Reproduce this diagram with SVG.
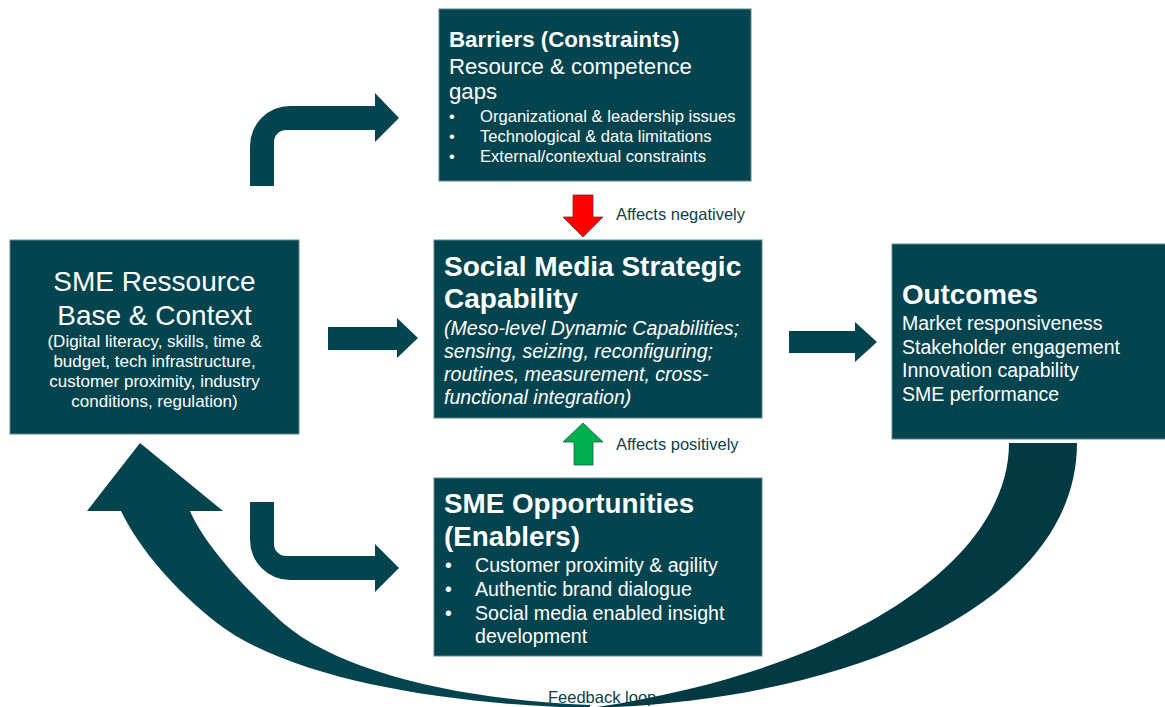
<svg xmlns="http://www.w3.org/2000/svg" width="1165" height="707" viewBox="0 0 1165 707">
  <style>
    .box { fill: #03444f; stroke: #5d8790; stroke-width: 1; }
    .flow { fill: #03444f; }
    .t { font-family: "Liberation Sans", Arial, sans-serif; fill: #ffffff; }
    .lbl { font-family: "Liberation Sans", Arial, sans-serif; fill: #0b3f49; font-size: 16.5px; }
    .b { font-weight: bold; }
    .i { font-style: italic; }
  </style>

  <!-- connectors -->
  <g id="connectors">
    <!-- feedback loop: underside (darker) from Outcomes down to the bottom -->
    <path d="M 1009,443 L 1077,443 C 1077,600 860,700 590,708 C 850,670 1009,560 1009,443 Z" fill="#023943"/>
    <!-- feedback loop: upper side rising back to the resource base -->
    <path d="M 590,708 C 450,705 290,680 217,623 C 175,590 140,550 121,511 L 87,511 L 140,443 L 223,511 L 190,511 C 200,535 230,575 283,623 C 340,672 460,700 590,705 Z" fill="#03444f"/>

    <!-- bent arrow to Barriers -->
    <path class="flow" d="M 250,186 L 250,146 A 40 40 0 0 1 290,106 L 375,106 L 375,93 L 399,118 L 375,142 L 375,130 L 286,130 A 12 12 0 0 0 274,142 L 274,186 Z"/>
    <!-- bent arrow to Opportunities -->
    <path class="flow" d="M 250,502 L 274,502 L 274,544 A 12 12 0 0 0 286,556 L 375,556 L 375,544 L 399,568 L 375,592 L 375,580 L 290,580 A 40 40 0 0 1 250,540 Z"/>

    <!-- resource base to capability -->
    <path class="flow" d="M 328,327 L 397,327 L 397,318 L 418,338 L 397,358 L 397,350 L 328,350 Z"/>
    <!-- capability to outcomes -->
    <path class="flow" d="M 789,331 L 855,331 L 855,322 L 877,342 L 855,362 L 855,353 L 789,353 Z"/>

    <!-- barriers affect capability negatively -->
    <path d="M 573,195 L 593,195 L 593,217 L 603,217 L 583,237 L 563,217 L 573,217 Z" fill="#ff0000" stroke="#7a2a2a" stroke-width="0.8"/>
    <!-- opportunities affect capability positively -->
    <path d="M 574,465 L 593,465 L 593,442 L 603,442 L 583,423 L 563,442 L 574,442 Z" fill="#00b050" stroke="#1f5a3c" stroke-width="0.8"/>

    <text class="lbl" x="616" y="220">Affects negatively</text>
    <text class="lbl" x="616" y="450">Affects positively</text>
    <text class="lbl" x="548" y="703">Feedback loop</text>
  </g>

  <!-- SME resource base -->
  <g id="resource-base">
    <rect class="box" x="10" y="240" width="289" height="194"/>
    <g class="t" text-anchor="middle">
      <text x="154.5" y="291" font-size="28">SME Ressource</text>
      <text x="154.5" y="325" font-size="28">Base &amp; Context</text>
      <text x="154.5" y="347" font-size="17">(Digital literacy, skills, time &amp;</text>
      <text x="154.5" y="367" font-size="17">budget, tech infrastructure,</text>
      <text x="154.5" y="387" font-size="17">customer proximity, industry</text>
      <text x="154.5" y="407" font-size="17">conditions, regulation)</text>
    </g>
  </g>

  <!-- barriers -->
  <g id="barriers">
    <rect class="box" x="439" y="9" width="312" height="172"/>
    <g class="t">
      <text class="b" x="449" y="47" font-size="22.3">Barriers (Constraints)</text>
      <text x="449" y="74" font-size="22.2">Resource &amp; competence</text>
      <text x="449" y="99" font-size="22.2">gaps</text>
      <g font-size="16.6">
        <text x="449" y="122">•</text>
        <text x="480" y="122">Organizational &amp; leadership issues</text>
        <text x="449" y="142">•</text>
        <text x="480" y="142">Technological &amp; data limitations</text>
        <text x="449" y="162">•</text>
        <text x="480" y="162">External/contextual constraints</text>
      </g>
    </g>
  </g>

  <!-- social media strategic capability -->
  <g id="capability">
    <rect class="box" x="434" y="240" width="328" height="178"/>
    <g class="t">
      <text class="b" x="444" y="276" font-size="28">Social Media Strategic</text>
      <text class="b" x="444" y="308" font-size="28">Capability</text>
      <g class="i" font-size="19.6">
        <text x="444" y="335">(Meso-level Dynamic Capabilities;</text>
        <text x="444" y="358">sensing, seizing, reconfiguring;</text>
        <text x="444" y="381">routines, measurement, cross-</text>
        <text x="444" y="404">functional integration)</text>
      </g>
    </g>
  </g>

  <!-- outcomes -->
  <g id="outcomes">
    <rect class="box" x="892" y="244" width="280" height="195"/>
    <g class="t">
      <text class="b" x="902" y="304" font-size="27.8">Outcomes</text>
      <g font-size="19.5">
        <text x="902" y="330">Market responsiveness</text>
        <text x="902" y="354">Stakeholder engagement</text>
        <text x="902" y="377">Innovation capability</text>
        <text x="902" y="401">SME performance</text>
      </g>
    </g>
  </g>

  <!-- opportunities -->
  <g id="opportunities">
    <rect class="box" x="434" y="478" width="328" height="178"/>
    <g class="t">
      <text class="b" x="444" y="513" font-size="27.8">SME Opportunities</text>
      <text class="b" x="444" y="546" font-size="27.8">(Enablers)</text>
      <g font-size="19.6">
        <text x="445" y="572">•</text>
        <text x="475" y="572">Customer proximity &amp; agility</text>
        <text x="445" y="596">•</text>
        <text x="475" y="596">Authentic brand dialogue</text>
        <text x="445" y="620">•</text>
        <text x="475" y="620">Social media enabled insight</text>
        <text x="475" y="643">development</text>
      </g>
    </g>
  </g>
</svg>
